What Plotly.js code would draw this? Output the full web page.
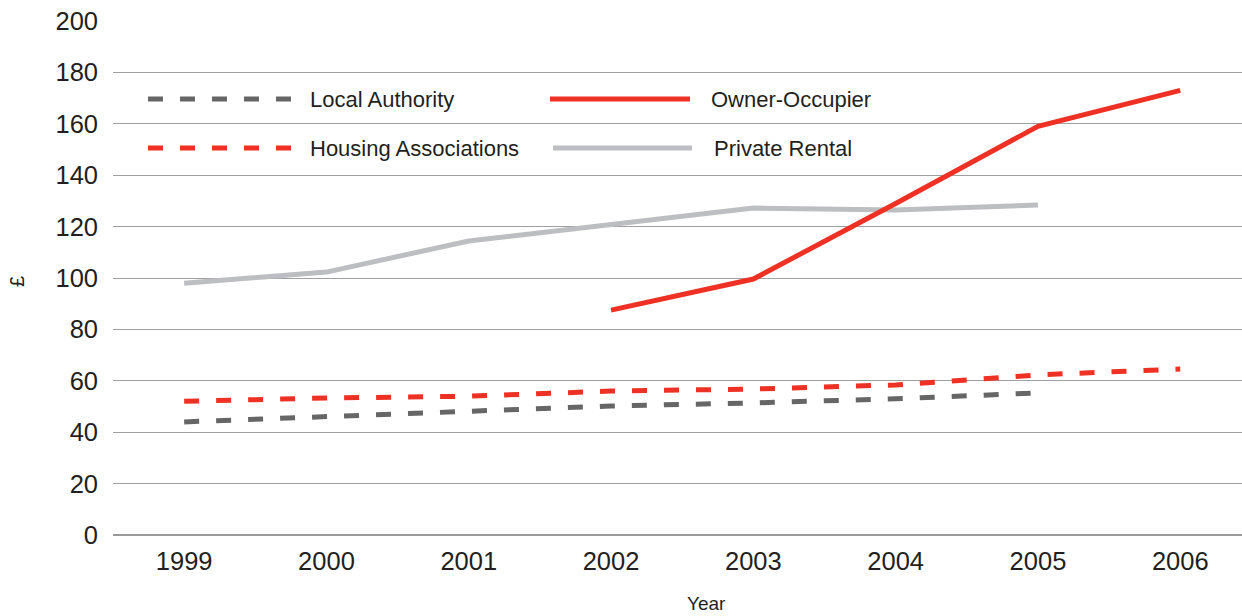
<!DOCTYPE html>
<html>
<head>
<meta charset="utf-8">
<script src="https://cdn.plot.ly/plotly-3.0.1.min.js"></script>
<style>
  html, body { margin: 0; padding: 0; background: #fff; }
  #chart { width: 1242px; height: 616px; }
</style>
</head>
<body>
<div id="chart"></div>
<script>
// Weekly housing cost (£) by tenure, 1999–2006
const years = ['1999', '2000', '2001', '2002', '2003', '2004', '2005', '2006'];
const localAuthority      = [44, 46, 48.2, 50.2, 51.4, 53, 55.3, null];
const housingAssociations = [52, 53.3, 54, 56, 56.8, 58.4, 62.3, 64.6];
const ownerOccupier       = [null, null, null, 87.5, 99.6, 129, 159, 173];
const privateRental       = [98, 102.3, 114.4, 121, 127.2, 126.5, 128.4, null];

const RED = '#ee3124';
const DARK = '#666666';
const LIGHT = '#bdbec2';
const TEXT = '#231f20';
const FONT = 'Liberation Sans, Arial, sans-serif';
const DASH = '15px,17px';

const series = [
  { name: 'Local Authority', y: localAuthority, color: DARK, dash: DASH },
  { name: 'Housing Associations', y: housingAssociations, color: RED, dash: DASH },
  { name: 'Private Rental', y: privateRental, color: LIGHT, dash: 'solid' },
  { name: 'Owner-Occupier', y: ownerOccupier, color: RED, dash: 'solid' }
];

const traces = series.map(s => ({
  type: 'scatter',
  mode: 'lines',
  name: s.name,
  x: years,
  y: s.y,
  connectgaps: false,
  line: { color: s.color, width: 5, dash: s.dash },
  hoverinfo: 'x+y+name'
}));

// Hand-laid legend: long line samples with labels, two columns by two rows
const plotL = 113, plotW = 1129, plotB = 535, plotH = 514;
const px = v => (v - plotL) / plotW;
const py = v => (plotB - v) / plotH;
const legendItems = [
  { s: series[0], x0: 148, x1: 291, tx: 308, y: 99 },
  { s: series[3], x0: 550, x1: 690, tx: 709, y: 99 },
  { s: series[1], x0: 148, x1: 291, tx: 308, y: 148 },
  { s: series[2], x0: 553, x1: 692, tx: 712, y: 148 }
];
const shapes = legendItems.map(it => ({
  type: 'line', xref: 'paper', yref: 'paper',
  x0: px(it.x0), x1: px(it.x1), y0: py(it.y), y1: py(it.y),
  line: { color: it.s.color, width: 5, dash: it.s.dash }
}));
const annotations = legendItems.map(it => ({
  xref: 'paper', yref: 'paper', x: px(it.tx), y: py(it.y),
  xanchor: 'left', yanchor: 'middle', showarrow: false,
  text: it.s.name,
  font: { family: FONT, size: 22, color: TEXT }
}));

// Axis titles
annotations.push({
  xref: 'paper', yref: 'paper', x: px(706), y: py(603),
  xanchor: 'center', yanchor: 'middle', showarrow: false, borderpad: 0,
  text: 'Year', font: { family: FONT, size: 19, color: TEXT }
});
annotations.push({
  xref: 'paper', yref: 'paper', x: px(17), y: py(282),
  xanchor: 'center', yanchor: 'middle', showarrow: false, textangle: -90,
  text: '£', font: { family: FONT, size: 20, color: TEXT }
});

const layout = {
  width: 1242, height: 616,
  margin: { l: 113, r: 0, t: 21, b: 81 },
  paper_bgcolor: '#ffffff', plot_bgcolor: '#ffffff',
  showlegend: false,
  font: { family: FONT, color: TEXT },
  xaxis: {
    type: 'category',
    range: [-0.5, 7.434],
    showgrid: false, showline: false, zeroline: false,
    ticks: '', ticklabelstandoff: 8,
    tickfont: { size: 25.5, color: TEXT }
  },
  yaxis: {
    range: [0, 200],
    dtick: 20,
    showgrid: true, gridcolor: '#a0a0a0', gridwidth: 1,
    zeroline: true, zerolinecolor: '#9a9a9a', zerolinewidth: 2,
    showline: false, ticks: '',
    ticklabelstandoff: 14,
    tickfont: { size: 25.5, color: TEXT }
  },
  shapes: shapes,
  annotations: annotations
};

Plotly.newPlot('chart', traces, layout, { displayModeBar: false, staticPlot: true });
</script>
</body>
</html>
